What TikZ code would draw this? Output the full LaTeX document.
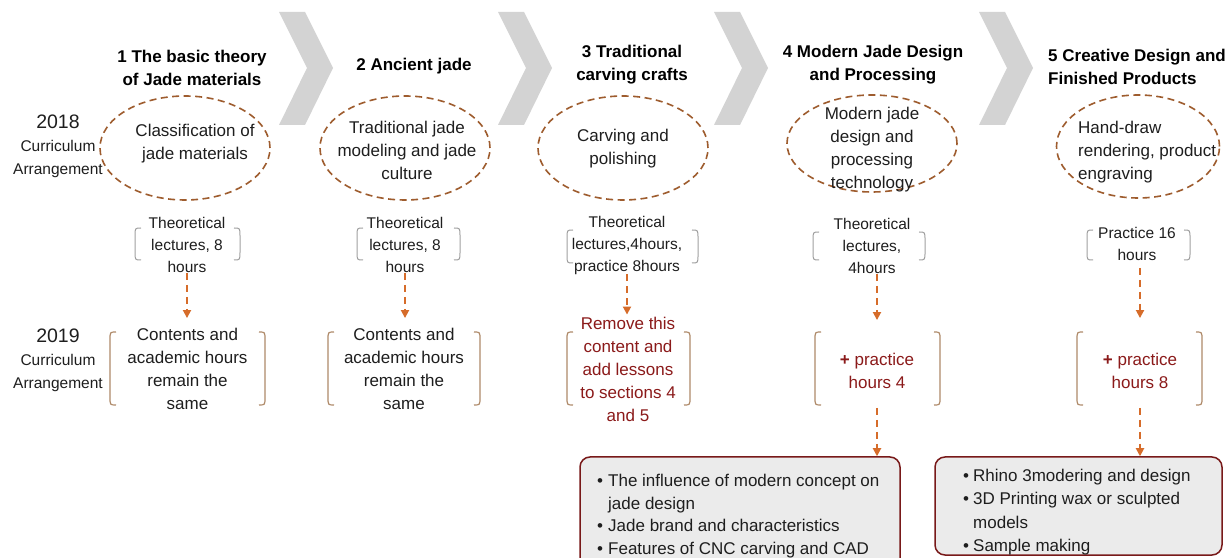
\documentclass[tikz,border=0pt]{standalone}
\usepackage{fontspec}
\setmainfont{Liberation Sans}
\usetikzlibrary{shapes.geometric,arrows.meta}
\definecolor{chev}{RGB}{211,211,211}
\definecolor{ovalc}{RGB}{158,92,46}
\definecolor{arrc}{RGB}{214,108,42}
\definecolor{brkA}{RGB}{160,160,160}
\definecolor{brkB}{RGB}{175,138,105}
\definecolor{redt}{RGB}{139,26,26}
\definecolor{boxb}{RGB}{120,25,25}
\definecolor{boxf}{RGB}{235,235,235}
\definecolor{txt}{RGB}{30,30,30}
% bracket pair: cx, cy, half width, half height, style
\newcommand\brkpair[5]{%
 \draw[#5] ({#1-#3+6},{#2+#4}) .. controls ({#1-#3},{#2+#4}) .. ({#1-#3},{#2+#4-8}) -- ({#1-#3},{#2-#4+8}) .. controls ({#1-#3},{#2-#4}) .. ({#1-#3+6},{#2-#4});
 \draw[#5] ({#1+#3-6},{#2+#4}) .. controls ({#1+#3},{#2+#4}) .. ({#1+#3},{#2+#4-8}) -- ({#1+#3},{#2-#4+8}) .. controls ({#1+#3},{#2-#4}) .. ({#1+#3-6},{#2-#4});}
\newcommand\chevshape[1]{%
 \fill[chev] (#1,545) -- ({#1+26},545) -- ({#1+54},489) -- ({#1+26},432) -- (#1,432) -- ({#1+28},489) -- cycle;}
\begin{document}
\begin{tikzpicture}[x=1pt,y=1pt,
 head/.style={font=\fontsize{17}{23}\selectfont\bfseries, align=center, inner sep=0pt, text=black},
 body/.style={font=\fontsize{17}{23}\selectfont, align=center, inner sep=0pt, text=txt},
 small/.style={font=\fontsize{15.5}{22}\selectfont, align=center, inner sep=0pt, text=txt},
 redbody/.style={body, text=redt},
 lbl/.style={font=\fontsize{15.5}{23}\selectfont, align=center, inner sep=0pt, text=txt},
 oval/.style={ellipse, draw=ovalc, line width=1.6pt, dash pattern=on 7pt off 4.5pt, minimum width=170pt, minimum height=104pt, inner sep=0pt},
 arr/.style={draw=arrc, line width=1.8pt, dash pattern=on 7pt off 5pt, -{Triangle[length=8pt,width=8pt]}},
 brA/.style={draw=brkA, line width=1pt},
 brB/.style={draw=brkB, line width=1.2pt},
 infobox/.style={draw=boxb, fill=boxf, line width=1.5pt, rounded corners=10pt, inner sep=0pt},
 list/.style={font=\fontsize{17}{22.7}\selectfont, align=left, inner sep=0pt, text=txt, anchor=north west}
]
\fill[white] (0,0) rectangle (1229,557);
\useasboundingbox (0,0) rectangle (1229,557);
% chevrons
\chevshape{279}
\chevshape{498}
\chevshape{714}
\chevshape{979}
% year labels
\node[lbl] (y18) at (58,410.5) {{\fontsize{19.5}{23}\selectfont 2018}\\Curriculum\\Arrangement};
\node[lbl] (y19) at (58,197) {{\fontsize{19.5}{23}\selectfont 2019}\\Curriculum\\Arrangement};
% headings
\node[head] (h1) at (192,489.5) {1 The basic theory\\of Jade materials};
\node[head] (h2) at (414,491) {2 Ancient jade};
\node[head] (h3) at (632,492) {3 Traditional\\carving crafts};
\node[head] (h4) at (873,492) {4 Modern Jade Design\\and Processing};
\node[head, align=left, anchor=west] (h5) at (1048,490.5) {5 Creative Design and\\Finished Products};
% ellipses
\node[oval] (e1) at (185,409) {};
\node[body] (t1) at (195,413.5) {Classification of\\jade materials};
\node[oval] (e2) at (405,409) {};
\node[body] (t2) at (407,407) {Traditional jade\\modeling and jade\\culture};
\node[oval] (e3) at (623,409) {};
\node[body] (t3) at (623,408.5) {Carving and\\polishing};
\node[oval, minimum height=97pt] (e4) at (872,413.5) {};
\node[body] (t4) at (872,407) {Modern jade\\design and\\processing\\technology};
\node[oval, minimum width=163pt, minimum height=103pt] (e5) at (1138,410.5) {};
\node[body, align=left, anchor=west] (t5) at (1078,404.5) {Hand-draw\\rendering, product\\engraving};
% 2018 hours
\node[small] (b1) at (187,312) {Theoretical\\lectures, 8\\hours};
\node[small] (b2) at (405,312) {Theoretical\\lectures, 8\\hours};
\node[small] (b3) at (627,312) {Theoretical\\lectures,4hours,\\practice 8hours};
\node[small] (b4) at (872,311) {Theoretical\\lectures,\\4hours};
\node[small] (b5) at (1137,313) {Practice 16\\hours};
\brkpair{187.5}{313}{52.5}{16}{brA}
\brkpair{408.5}{313}{51.5}{16}{brA}
\brkpair{632.5}{310.5}{65.5}{16.5}{brA}
\brkpair{869}{311}{56}{14}{brA}
\brkpair{1138.5}{312}{51.5}{15}{brA}
% 2019
\node[body] (c1) at (187.5,188) {Contents and\\academic hours\\remain the\\same};
\node[body] (c2) at (404,188) {Contents and\\academic hours\\remain the\\same};
\node[redbody] (c3) at (628,188) {Remove this\\content and\\add lessons\\to sections 4\\and 5};
\node[redbody] (c4) at (877,186) {\textbf{+} practice\\hours 4};
\node[redbody] (c5) at (1140,186) {\textbf{+} practice\\hours 8};
\brkpair{187.5}{188.5}{77.5}{36.5}{brB}
\brkpair{404}{188.5}{76}{36.5}{brB}
\brkpair{628.5}{188.5}{61.5}{36.5}{brB}
\brkpair{877.5}{188.5}{62.5}{36.5}{brB}
\brkpair{1139.5}{188.5}{62.5}{36.5}{brB}
% boxes
\node[infobox, minimum width=320pt, minimum height=118pt] (d4) at (740,41) {};
\node[list] (l4) at (597,83) {\makebox[11pt][l]{\textbullet}The influence of modern concept on\\\hspace*{11pt}jade design\\\makebox[11pt][l]{\textbullet}Jade brand and characteristics\\\makebox[11pt][l]{\textbullet}Features of CNC carving and CAD};
\node[infobox, minimum width=287pt, minimum height=98pt] (d5) at (1078.5,51) {};
\node[list, font=\fontsize{17}{23.3}\selectfont] (l5) at (963,88) {\makebox[10pt][l]{\textbullet}Rhino 3modering and design\\\makebox[10pt][l]{\textbullet}3D Printing wax or sculpted\\\hspace*{10pt}models\\\makebox[10pt][l]{\textbullet}Sample making};
% arrows
\draw[arr] (b1.south) -- ([yshift=10pt]b1.south |- c1.north);
\draw[arr] (b2.south) -- ([yshift=10pt]b2.south |- c2.north);
\draw[arr] (b3.south) -- ([yshift=2pt]b3.south |- c3.north);
\draw[arr] (c4.north |- b4.south) -- ([yshift=33pt]c4.north);
\draw[arr] ([yshift=-7pt]c5.north |- b5.south) -- ([yshift=35pt]c5.north);
\draw[arr] ([yshift=-19pt]c4.south) -- (c4.south |- d4.north);
\draw[arr] ([yshift=-19pt]c5.south) -- (c5.south |- d5.north);
\end{tikzpicture}
\end{document}
